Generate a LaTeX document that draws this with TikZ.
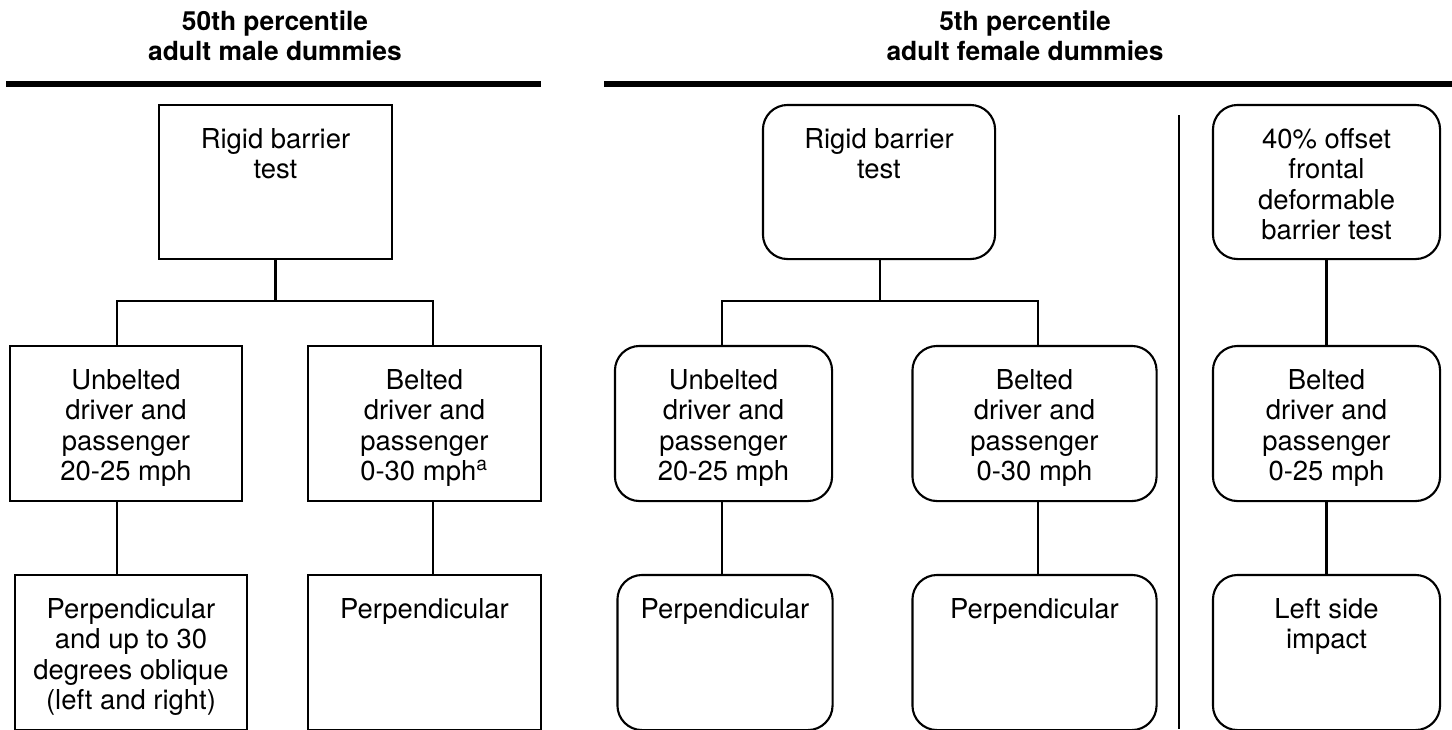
\documentclass[tikz,border=0pt]{standalone}
\usepackage{fontspec}
\setmainfont{TeX Gyre Heros}
\usetikzlibrary{positioning}

\tikzset{
  box/.style={draw, line width=0.6pt, inner sep=0pt, minimum height=1.55cm},
  rbox/.style={box, rounded corners=7pt},
  txt/.style={align=center, inner sep=0pt, font=\fontsize{7.8}{8.6}\selectfont},
  head/.style={align=center, inner sep=0pt, font=\fontsize{7.5}{8.6}\selectfont\bfseries},
  rule/.style={line width=1.7pt},
  link/.style={line width=0.6pt}
}

\begin{document}
\begin{tikzpicture}[x=0.01cm,y=-0.01cm]
\useasboundingbox (0,0) rectangle (1452,729);

% headers
\node[head] (lhead) at (275,36) {50th percentile\\adult male dummies};
\node[head] (rhead) at (1025,36) {5th percentile\\adult female dummies};
\draw[rule] (6,84) -- (541,84);
\draw[rule] (604,84) -- (1452,84);

% 50th percentile male
\node[box, minimum width=2.33cm, minimum height=1.54cm] (lrig) at (275.5,182) {};
\node[txt, below=0.24cm of lrig.north] (lrigt) {Rigid barrier\\test};

\node[box, minimum width=2.32cm] (lunb) at (126,423.5) {};
\node[txt, below=0.24cm of lunb.north] (lunbt) {Unbelted\\driver and\\passenger\\20-25 mph};

\node[box, minimum width=2.33cm] (lbel) at (424.5,423.5) {};
\node[txt, below=0.24cm of lbel.north] (lbelt) {Belted\\driver and\\passenger\\0-30 mph\textsuperscript{a}};

\node[box, minimum width=2.32cm] (lper) at (131,652.5) {};
\node[txt, below=0.24cm of lper.north] (lpert) {Perpendicular\\and up to 30\\degrees oblique\\(left and right)};

\node[box, minimum width=2.33cm] (lperb) at (424.5,652.5) {};
\node[txt, below=0.24cm of lperb.north] (lperbt) {Perpendicular};

\draw[link] (lrig.south) -- ++(0,41) coordinate (lj);
\draw[link] ([xshift=-0.09cm]lunb.north) |- (lj) -| ([xshift=0.085cm]lbel.north);
\draw[link] ([xshift=-0.09cm]lunb.south) -- ([xshift=-0.09cm]lunb.south |- lper.north);
\draw[link] ([xshift=0.085cm]lbel.south) -- ([xshift=0.085cm]lbel.south |- lperb.north);

% 5th percentile female
\node[rbox, minimum width=2.32cm, minimum height=1.54cm] (rrig) at (879,182) {};
\node[txt, below=0.24cm of rrig.north] (rrigt) {Rigid barrier\\test};

\node[rbox, minimum width=2.17cm] (runb) at (723.5,423.5) {};
\node[txt, below=0.24cm of runb.north] (runbt) {Unbelted\\driver and\\passenger\\20-25 mph};

\node[rbox, minimum width=2.44cm] (rbel) at (1034.5,423.5) {};
\node[txt, below=0.24cm of rbel.north] (rbelt) {Belted\\driver and\\passenger\\0-30 mph};

\node[rbox, minimum width=2.15cm] (rper) at (725,652.5) {};
\node[txt, below=0.24cm of rper.north] (rpert) {Perpendicular};

\node[rbox, minimum width=2.44cm] (rperb) at (1034.5,652.5) {};
\node[txt, below=0.24cm of rperb.north] (rperbt) {Perpendicular};

\draw[link] ([xshift=0.01cm]rrig.south) -- ++(0,41) coordinate (rj);
\draw[link] ([xshift=-0.015cm]runb.north) |- (rj) -| ([xshift=0.035cm]rbel.north);
\draw[link] ([xshift=-0.015cm]runb.south) -- ([xshift=-0.015cm]runb.south |- rper.north);
\draw[link] ([xshift=0.035cm]rbel.south) -- ([xshift=0.035cm]rbel.south |- rperb.north);

% divider
\draw[link] (1179,115) -- (1179,729);

% offset test
\node[rbox, minimum width=2.27cm, minimum height=1.54cm] (roff) at (1326.5,182) {};
\node[txt, below=0.24cm of roff.north] (rofft) {40\% offset\\frontal\\deformable\\barrier test};

\node[rbox, minimum width=2.27cm] (robel) at (1326.5,423.5) {};
\node[txt, below=0.24cm of robel.north] (robelt) {Belted\\driver and\\passenger\\0-25 mph};

\node[rbox, minimum width=2.27cm] (rside) at (1326.5,652.5) {};
\node[txt, below=0.24cm of rside.north] (rsidet) {Left side\\impact};

\draw[link] (roff) -- (robel);
\draw[link] (robel) -- (rside);
\end{tikzpicture}
\end{document}
